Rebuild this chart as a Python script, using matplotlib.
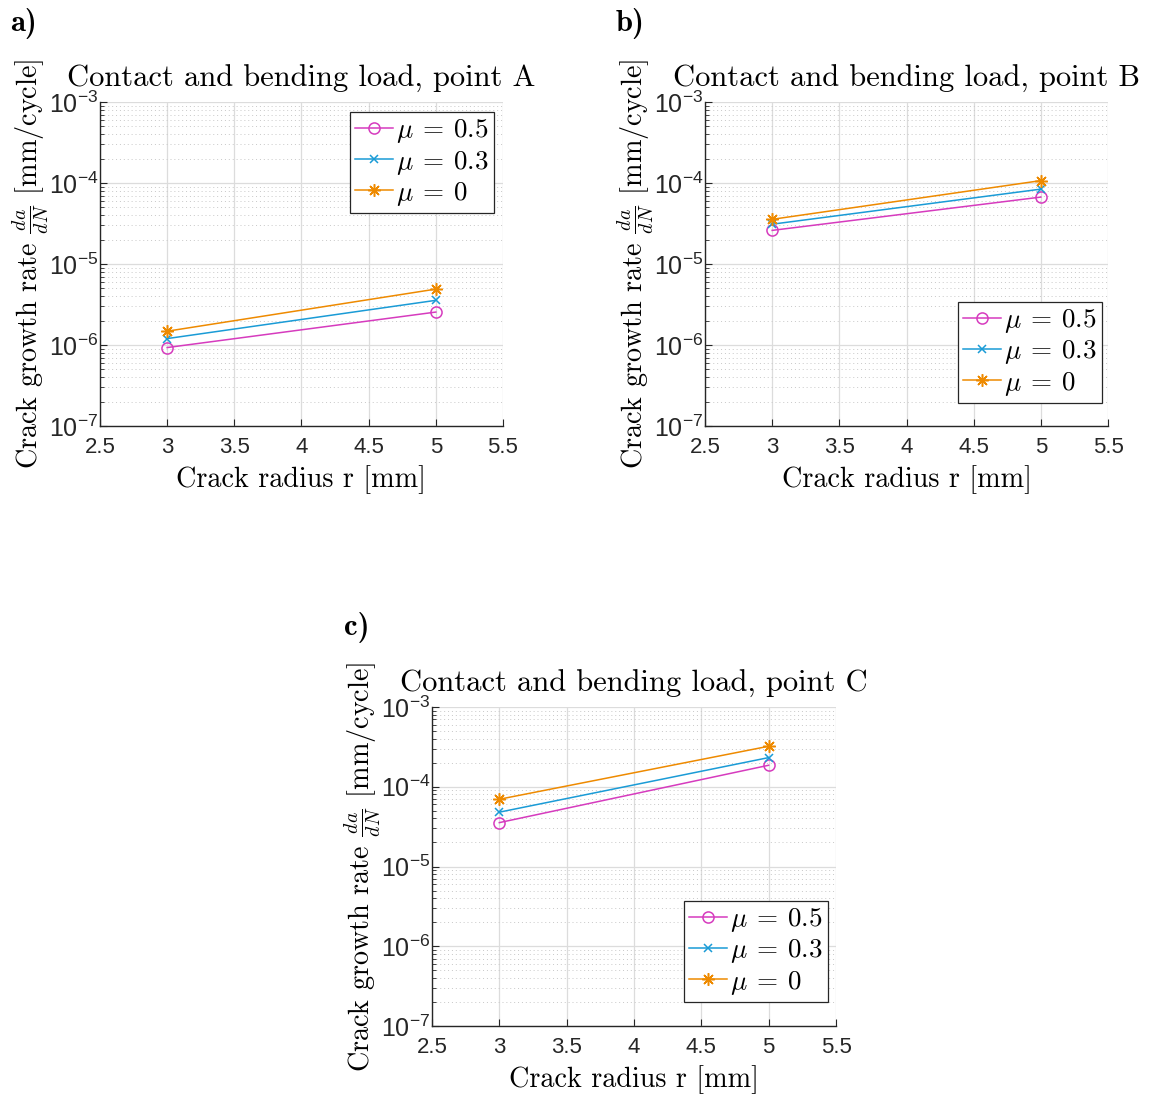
import math
import matplotlib
matplotlib.use('Agg')
import matplotlib.pyplot as plt
from matplotlib.font_manager import FontProperties
from matplotlib.ticker import LogLocator, FixedLocator, FuncFormatter, NullFormatter

plt.rcParams['font.family'] = ['Liberation Sans', 'DejaVu Sans']
plt.rcParams['mathtext.fontset'] = 'custom'
plt.rcParams['mathtext.rm'] = 'Liberation Sans'
plt.rcParams['mathtext.it'] = 'Liberation Sans:italic'
plt.rcParams['mathtext.bf'] = 'Liberation Sans:bold'

# data
radius = [3, 5]
mu_labels = [r'$\mu \:=\: 0.5$', r'$\mu \:=\: 0.3$', r'$\mu \:=\: 0$']
rate_A = [[0.93e-6, 2.55e-6], [1.2e-6, 3.56e-6], [1.48e-6, 4.9e-6]]
rate_B = [[2.6e-5, 6.7e-5], [3.1e-5, 8.4e-5], [3.56e-5, 1.07e-4]]
rate_C = [[3.55e-5, 1.86e-4], [4.8e-5, 2.32e-4], [6.97e-5, 3.22e-4]]
titles = ['Contact and bending load, point A',
          'Contact and bending load, point B',
          'Contact and bending load, point C']
panel_tags = ['a)', 'b)', 'c)']
x_ticks = [2.5, 3, 3.5, 4, 4.5, 5, 5.5]

colors = ['#D63BBE', '#1A9BD6', '#EE8A00']
markers = ['o', 'x', (8, 2, 0)]
msizes = [8, 6, 9]

W, H = 1150, 1097
fig = plt.figure(figsize=(W / 100, H / 100), dpi=100)


def px_axes(left, top, right, bottom):
    return fig.add_axes([left / W, 1 - bottom / H, (right - left) / W, (bottom - top) / H])


lab_font = FontProperties(family='cmr10', size=20.3, math_fontfamily='cm')
leg_font = FontProperties(family='cmr10', size=19.5, math_fontfamily='cm')

boxes = [(100, 102, 503, 426), (705, 102, 1108, 426), (432, 707, 836, 1026)]
datasets = [rate_A, rate_B, rate_C]
# legend corner offsets in pixels: (loc, dx from right, dy from top/bottom)
legend_loc = [('upper right', 9, 10), ('lower right', 6, 23), ('lower right', 8, 24)]
ylabel_gap = 49
tag_pos = [(10, 8), (616, 8), (344, 612)]

for i, (box, data) in enumerate(zip(boxes, datasets)):
    ax = px_axes(*box)
    aw, ah = box[2] - box[0], box[3] - box[1]
    for j, series in enumerate(data):
        ax.plot(radius, series, color=colors[j], marker=markers[j], ms=msizes[j],
                mfc='none', mec=colors[j], mew=1.1, lw=1.1,
                label=mu_labels[j])
    ax.set_yscale('log')
    ax.set_ylim(1e-7, 1e-3)
    ax.set_xlim(2.5, 5.5)
    ax.xaxis.set_major_locator(FixedLocator(x_ticks))
    ax.xaxis.set_major_formatter(FuncFormatter(lambda v, p: f'{v:g}'))
    ax.yaxis.set_major_locator(LogLocator(base=10, numticks=10))
    ax.yaxis.set_minor_locator(LogLocator(base=10, subs=range(2, 10), numticks=20))
    ax.yaxis.set_minor_formatter(NullFormatter())
    ax.yaxis.set_major_formatter(FuncFormatter(lambda v, p: r'$10^{\mathregular{-%d}}$' % round(-math.log10(v))))
    ax.tick_params(axis='both', which='both', direction='in', colors='#262626')
    ax.tick_params(axis='x', which='major', labelsize=16, pad=8, length=5)
    ax.tick_params(axis='y', which='major', labelsize=18, pad=1, length=5)
    ax.tick_params(axis='y', which='minor', length=3)
    ax.grid(True, which='major', color='#DCDCDC', lw=0.9)
    ax.grid(True, which='minor', axis='y', color='#C8C8C8', lw=0.7, ls=(0, (1, 3)))
    ax.spines['top'].set_visible(False)
    ax.spines['right'].set_visible(False)
    for s in ('left', 'bottom'):
        ax.spines[s].set_color('#262626')
        ax.spines[s].set_linewidth(1.0)
    ax.set_axisbelow(True)

    ax.set_title(titles[i], fontproperties=FontProperties(family='cmr10', size=22), pad=11)
    ax.set_xlabel('Crack radius r [mm]', fontproperties=lab_font, labelpad=5)
    ax.set_ylabel(r'Crack growth rate $\frac{da}{dN}$ [mm/cycle]', fontproperties=lab_font)
    ax.yaxis.set_label_coords(-ylabel_gap / aw, 0.5)

    loc, dx, dy = legend_loc[i]
    anchor_y = 1 - dy / ah if loc.startswith('upper') else dy / ah
    leg = ax.legend(loc=loc, bbox_to_anchor=(1 - dx / aw, anchor_y), prop=leg_font,
                    fancybox=False, framealpha=1, edgecolor='#262626',
                    handlelength=1.4, handletextpad=0.1, borderpad=0.2,
                    labelspacing=0.12, borderaxespad=0)
    leg.get_frame().set_linewidth(0.9)

    tx, ty = tag_pos[i]
    fig.text(tx / W, 1 - ty / H, panel_tags[i], fontproperties=FontProperties(family='cmb10', size=22),
             va='top', ha='left')

fig.savefig('out.png', dpi=100, facecolor='white')
